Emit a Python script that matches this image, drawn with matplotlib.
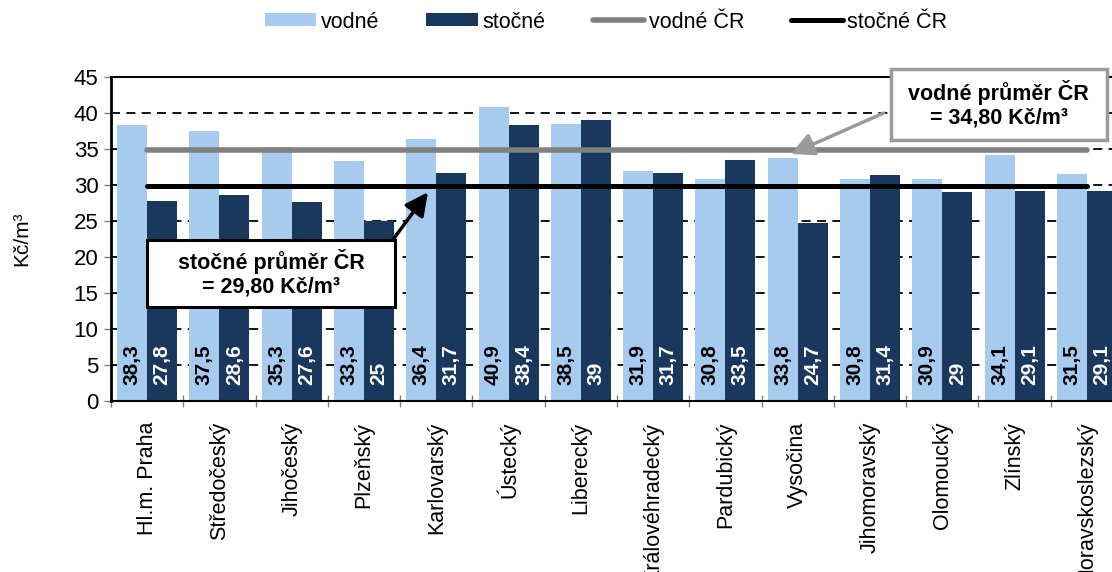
import matplotlib.pyplot as plt
import numpy as np
from matplotlib.patches import Rectangle, Patch
from matplotlib.lines import Line2D

plt.rcParams['font.family'] = ['Liberation Sans', 'DejaVu Sans']

kraje = ["Hl.m. Praha", "Středočeský", "Jihočeský", "Plzeňský", "Karlovarský",
         "Ústecký", "Liberecký", "Královéhradecký", "Pardubický", "Vysočina",
         "Jihomoravský", "Olomoucký", "Zlínský", "Moravskoslezský"]
vodne = [38.3, 37.5, 35.3, 33.3, 36.4, 40.9, 38.5, 31.9, 30.8, 33.8, 30.8, 30.9, 34.1, 31.5]
stocne = [27.8, 28.6, 27.6, 25, 31.7, 38.4, 39, 31.7, 33.5, 24.7, 31.4, 29, 29.1, 29.1]
vodne_cr = 34.80
stocne_cr = 29.80

c_light = "#a7cbef"
c_dark = "#1a375e"

def fmt(v):
    return f"{v:g}".replace(".", ",")

fig = plt.figure(figsize=(11.12, 5.72), dpi=100)
ax = fig.add_axes([111/1112, 1 - 401/572, (1123 - 111)/1112, (401 - 77)/572])

x = np.arange(len(kraje))
w = 0.415
ax.bar(x - w/2, vodne, w, color=c_light, zorder=2)
ax.bar(x + w/2, stocne, w, color=c_dark, zorder=2)

# popisky hodnot uvnitr sloupcu
for i in range(len(kraje)):
    ax.text(x[i] - w/2, 2.2, fmt(vodne[i]), rotation=90, ha='center', va='bottom',
            fontsize=15, fontweight='bold', color='black', zorder=4)
    ax.text(x[i] + w/2, 2.2, fmt(stocne[i]), rotation=90, ha='center', va='bottom',
            fontsize=15, fontweight='bold', color='white', zorder=4)

# prumery CR
ax.plot([x[0], x[-1]], [vodne_cr, vodne_cr], color='#808080', lw=4, zorder=3,
        solid_capstyle='round')
ax.plot([x[0], x[-1]], [stocne_cr, stocne_cr], color='black', lw=3.6, zorder=3,
        solid_capstyle='round')

ax.set_xlim(-0.5, len(kraje) - 0.5)
ax.set_ylim(0, 45)
ax.set_yticks(np.arange(0, 46, 5))
ax.yaxis.grid(True, linestyle=(0, (5, 3.5)), color='black', lw=1.3, zorder=0)
ax.set_axisbelow(True)
ax.tick_params(axis='y', labelsize=16, length=5, width=1, color='#808080', pad=4)

ax.set_xticks(x)
ax.set_xticklabels(kraje, rotation=90, fontsize=15.5)
ax.set_xticks(np.arange(-0.5, len(kraje), 1), minor=True)
ax.tick_params(axis='x', which='major', length=0, pad=15)
ax.tick_params(axis='x', which='minor', direction='inout', length=9, width=1, color='#808080')

for s in ['left', 'top', 'bottom']:
    ax.spines[s].set_color('black')
ax.spines['left'].set_linewidth(2)
ax.spines['top'].set_linewidth(1.5)
ax.spines['bottom'].set_linewidth(1.5)
ax.spines['right'].set_visible(False)

ax.set_ylabel("Kč/m³", fontsize=15)
ax.yaxis.set_label_coords(-80/1012, 0.5)

# popisky prumeru
ax.add_patch(Rectangle((0.0, 13.06), 3.43, 9.3, facecolor='white', edgecolor='black',
                       lw=2.2, zorder=5))
ax.text(1.713, 17.8, "stočné průměr ČR\n= 29,80 Kč/m³", ha='center', va='center',
        fontsize=15.5, fontweight='bold', zorder=6, linespacing=1.15)
ax.annotate("", xy=(3.885, 29.0), xytext=(3.40, 22.4),
            arrowprops=dict(arrowstyle='-|>,head_length=0.7,head_width=0.35', lw=2.5,
                            color='black', mutation_scale=20, shrinkA=0, shrinkB=0),
            zorder=6)

ax.add_patch(Rectangle((10.29, 36.25), 2.99, 9.85, facecolor='white', edgecolor='#9a9a9a',
                       lw=2.5, zorder=5, clip_on=False))
ax.text(11.78, 41.25, "vodné průměr ČR\n= 34,80 Kč/m³", ha='center', va='center',
        fontsize=15.5, fontweight='bold', zorder=6, linespacing=1.15)
ax.annotate("", xy=(8.905, 34.3), xytext=(10.19, 40.0),
            arrowprops=dict(arrowstyle='-|>,head_length=0.7,head_width=0.35', lw=2.5,
                            color='#9a9a9a', mutation_scale=20, shrinkA=0, shrinkB=0),
            zorder=6)

handles = [Patch(facecolor=c_light), Patch(facecolor=c_dark),
           Line2D([], [], color='#808080', lw=4, solid_capstyle='round'),
           Line2D([], [], color='black', lw=3.6, solid_capstyle='round')]
fig.legend(handles, ["vodné", "stočné", "vodné ČR", "stočné ČR"], loc='center',
           bbox_to_anchor=(0.545, 1 - 22/572), ncol=4, frameon=False, fontsize=15.5,
           handlelength=2.4, handleheight=0.55, handletextpad=0.2, columnspacing=2.2)

fig.savefig("out.png", dpi=100)
